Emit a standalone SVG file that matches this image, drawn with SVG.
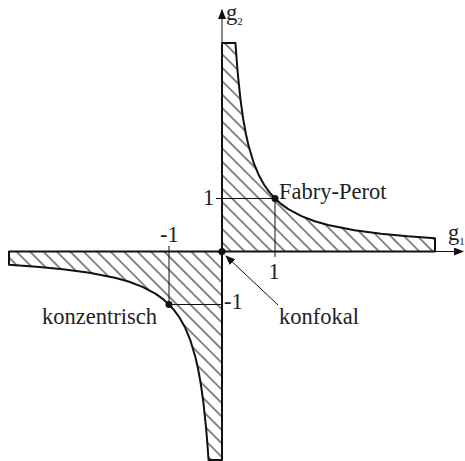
<svg xmlns="http://www.w3.org/2000/svg" width="465" height="461" viewBox="0 0 465 461">
<style>
text{font-family:'Liberation Serif','Times New Roman',Times,serif;font-size:22.5px;fill:#222}
.sub{font-size:11px}
.region{fill:url(#hatch);stroke:#111;stroke-width:2;stroke-linejoin:round}
.thin{stroke:#111;stroke-width:1;fill:none}
.dot{fill:#111}
</style>
<defs>
<pattern id="hatch" patternUnits="userSpaceOnUse" width="9.5" height="9.5" patternTransform="rotate(45)">
<rect width="9.5" height="9.5" fill="#fff"/>
<line x1="0" y1="4.75" x2="9.5" y2="4.75" stroke="#111" stroke-width="1"/>
</pattern>
<marker id="arr" markerWidth="10" markerHeight="8" refX="9" refY="4" orient="auto" markerUnits="userSpaceOnUse">
<path d="M0,0 L10,4 L0,8 Z" fill="#111"/>
</marker>
</defs>
<rect width="465" height="461" fill="#fff"/>
<g id="region-q1">
<path class="region" d="M222,43 L235.47,43 L236.31,55.2 L237.9,74.83 L240.55,100.07 L243.2,119 L245.85,133.72 L248.5,145.5 L253.8,163.17 L259.1,175.79 L264.4,185.25 L269.7,192.61 L275,198.5 L280.3,203.32 L288.25,209.1 L301.5,216.17 L314.75,221.21 L328,225 L354.5,230.3 L381,233.83 L407.5,236.36 L435,238.3 L435,251.5 L222,251.5 Z"/>
</g>
<g id="region-q3">
<path class="region" d="M222,460 L208.53,460 L207.69,447.8 L206.1,428.17 L203.45,402.93 L200.8,384 L198.15,369.28 L195.5,357.5 L190.2,339.83 L184.9,327.21 L179.6,317.75 L174.3,310.39 L169,304.5 L163.7,299.68 L155.75,293.9 L142.5,286.83 L129.25,281.79 L116,278 L89.5,272.7 L63,269.17 L36.5,266.64 L9,264.7 L9,251.5 L222,251.5 Z"/>
</g>
<g id="connectors">
<line class="thin" x1="222" y1="43" x2="222" y2="10" marker-end="url(#arr)"/>
<line class="thin" x1="435" y1="251.5" x2="463" y2="251.5" marker-end="url(#arr)"/>
<line class="thin" x1="216" y1="198.5" x2="275" y2="198.5"/>
<line class="thin" x1="275" y1="198.5" x2="275" y2="257"/>
<line class="thin" x1="169" y1="246" x2="169" y2="304.5"/>
<line class="thin" x1="169" y1="304.5" x2="223" y2="304.5"/>
<line class="thin" x1="278" y1="305" x2="226" y2="256" marker-end="url(#arr)"/>
</g>
<g id="points">
<circle class="dot" cx="222" cy="251.5" r="3.5"/>
<circle class="dot" cx="275" cy="198.5" r="3.5"/>
<circle class="dot" cx="169" cy="304.5" r="3.5"/>
</g>
<g id="labels">
<text x="226" y="20">g<tspan class="sub" dy="5">2</tspan></text>
<text x="448" y="240">g<tspan class="sub" dy="5">1</tspan></text>
<text x="279" y="199">Fabry-Perot</text>
<text x="203" y="205">1</text>
<text x="160" y="242">-1</text>
<text x="268.5" y="279">1</text>
<text x="224" y="309">-1</text>
<text x="42" y="324">konzentrisch</text>
<text x="279" y="324">konfokal</text>
</g>
</svg>
